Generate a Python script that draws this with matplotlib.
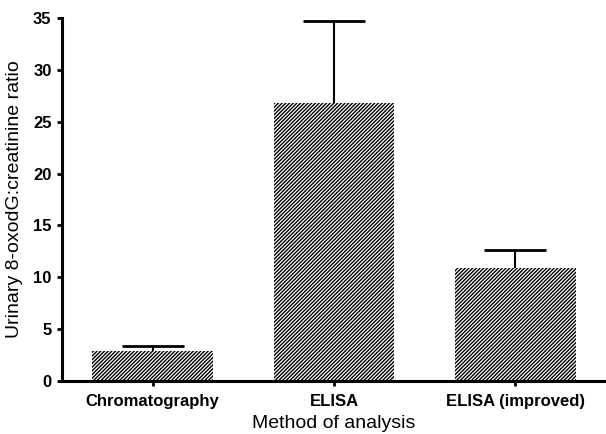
import matplotlib
matplotlib.use("Agg")
import matplotlib.pyplot as plt
import numpy as np

plt.rcParams['font.family'] = ['Liberation Sans', 'DejaVu Sans']
plt.rcParams['hatch.linewidth'] = 1.0

methods = ['Chromatography', 'ELISA', 'ELISA (improved)']
ratio_mean = [2.9, 26.8, 10.9]
ratio_err = [0.5, 7.9, 1.7]

fig = plt.figure(figsize=(6.06, 4.34), dpi=100)
ax = fig.add_axes([0.1023, 0.1221, 0.8977, 0.8364])

x = np.arange(len(methods))
ax.bar(x, ratio_mean, width=0.667, color='white', edgecolor='black',
       linewidth=0, hatch='/////////', zorder=2)
# only the upper half of each error bar is shown
eb = ax.errorbar(x, ratio_mean, yerr=[np.zeros(len(x)), ratio_err], fmt='none',
                 ecolor='black', elinewidth=1.5, capsize=22, capthick=2, zorder=3)
eb[1][0].set_visible(False)

ax.set_xlim(-0.5, 2.5)
ax.set_ylim(0, 35)
ax.set_yticks(np.arange(0, 36, 5))
ax.set_xticks(x)
ax.set_xticklabels(methods)

for s in ['top', 'right']:
    ax.spines[s].set_visible(False)
for s in ['left', 'bottom']:
    ax.spines[s].set_linewidth(2.2)

ax.tick_params(axis='both', direction='out', length=3.5, width=2,
               labelsize=12)
ax.tick_params(axis='y', pad=4)
ax.tick_params(axis='x', pad=6)
for lbl in ax.get_xticklabels() + ax.get_yticklabels():
    lbl.set_fontweight('bold')

ax.set_xlabel('Method of analysis', fontsize=14, labelpad=4.5)
ax.set_ylabel('Urinary 8-oxodG:creatinine ratio', fontsize=14)
ax.yaxis.set_label_coords(-0.072, 0.5)

fig.savefig('out.png', dpi=100)
